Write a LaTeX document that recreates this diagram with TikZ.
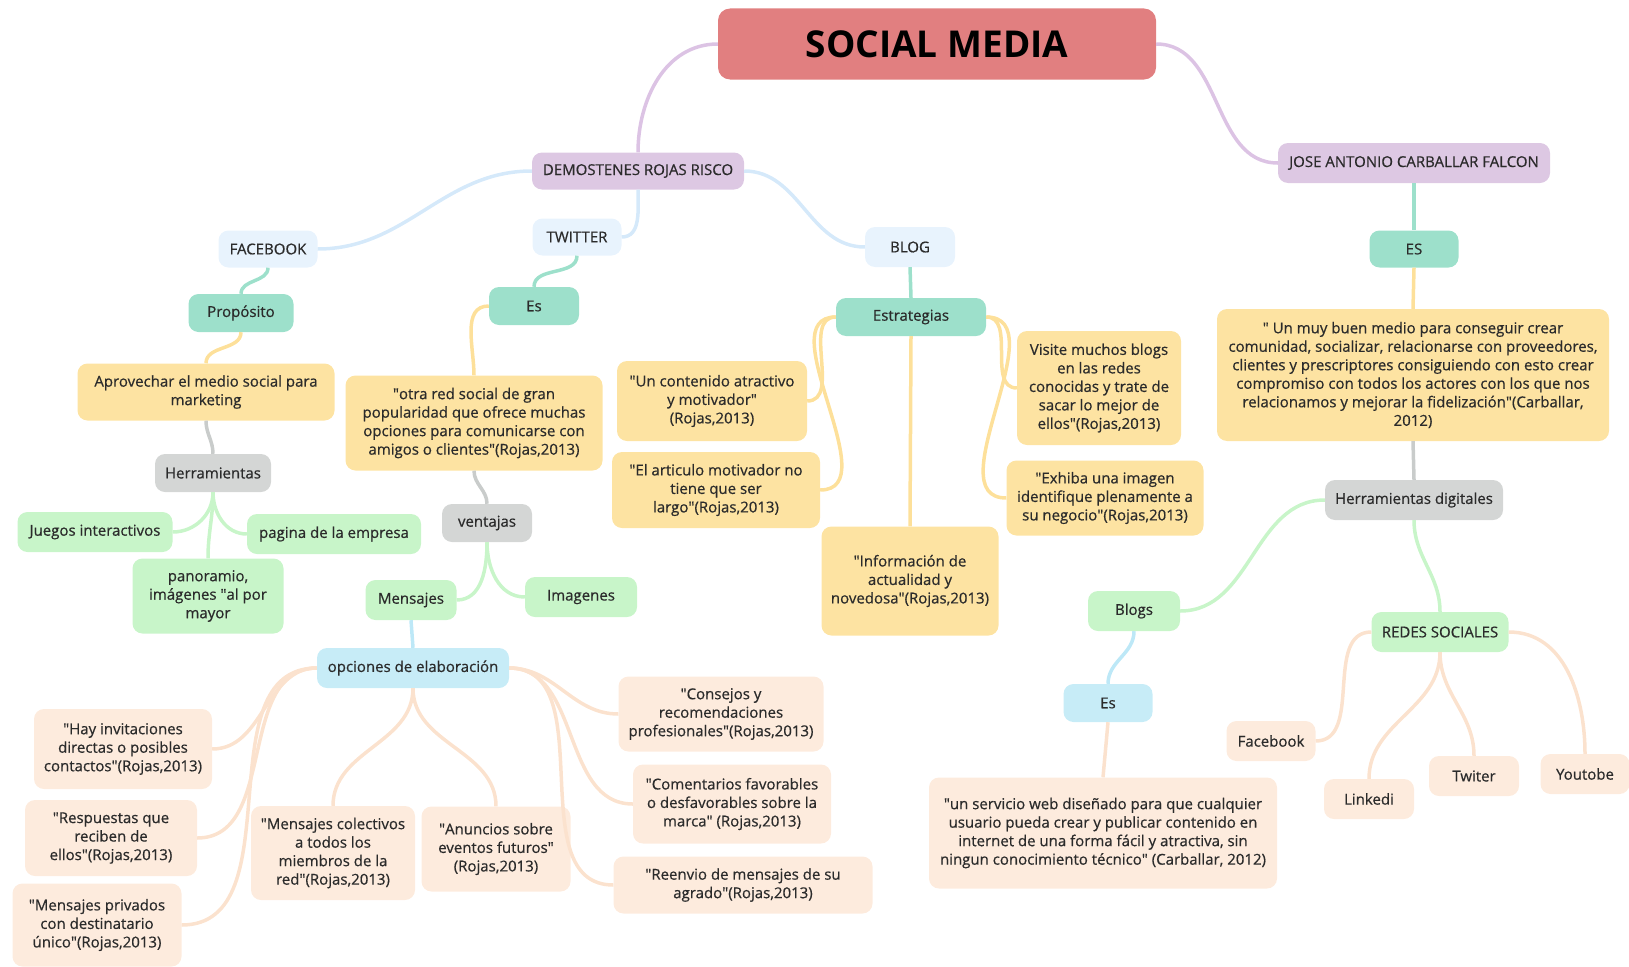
\documentclass[tikz,border=0pt]{standalone}
\usepackage{fontspec}
\setmainfont{Open Sans}
\newfontfamily\boxfont{Open Sans}[FakeBold=0.6]
\usepackage{tikz}

\newcommand{\dq}{\textquotedbl}

\definecolor{socialred}{HTML}{E17F80}
\definecolor{purplefill}{HTML}{DDC8E3}
\definecolor{bluefill}{HTML}{E8F3FD}
\definecolor{tealfill}{HTML}{9DE0CB}
\definecolor{yellowfill}{HTML}{FDE3A2}
\definecolor{grayfill}{HTML}{D4D6D5}
\definecolor{greenfill}{HTML}{C8F5C9}
\definecolor{cyanfill}{HTML}{C7ECF7}
\definecolor{peachfill}{HTML}{FDEBDD}
\definecolor{purpleline}{HTML}{DCC3E4}
\definecolor{blueline}{HTML}{D5E9FA}
\definecolor{yellowline}{HTML}{FDE09A}
\definecolor{grayline}{HTML}{C9CCCB}
\definecolor{cyanline}{HTML}{BDE8F7}
\definecolor{peachline}{HTML}{FBE2CE}
\definecolor{textgray}{HTML}{2B2B2B}

\begin{document}
\begin{tikzpicture}[x=1pt, y=-1pt,
		node_style/.style={rounded corners=10pt, fill=#1, text=textgray, align=center, inner sep=0pt,
			font=\boxfont\fontsize{15}{18.5}\selectfont},
		root_style/.style={rounded corners=12pt, fill=socialred, text=black, inner sep=0pt,
			font=\fontsize{37}{40}\selectfont\bfseries},
		edge_style/.style={draw=#1, line width=3.5pt}]

		\useasboundingbox (0,0) rectangle (1629,966);

		\node[root_style, minimum width=438, minimum height=71] (n0) at (937,44) {SOCIAL MEDIA};
		\node[node_style=purplefill, minimum width=212, minimum height=37] (n1) at (638,171) {DEMOSTENES ROJAS RISCO};
		\node[node_style=purplefill, minimum width=272, minimum height=40] (n2) at (1414,163) {JOSE ANTONIO CARBALLAR FALCON};
		\node[node_style=bluefill, minimum width=99, minimum height=37] (n3) at (268,249) {FACEBOOK};
		\node[node_style=bluefill, minimum width=89, minimum height=37] (n4) at (577,237) {TWITTER};
		\node[node_style=bluefill, minimum width=90, minimum height=40] (n5) at (910,247) {BLOG};
		\node[node_style=tealfill, minimum width=105, minimum height=38] (n6) at (241,313) {Propósito};
		\node[node_style=tealfill, minimum width=90, minimum height=38] (n7) at (534,306) {Es};
		\node[node_style=tealfill, minimum width=150, minimum height=38] (n8) at (911,317) {Estrategias};
		\node[node_style=tealfill, minimum width=89, minimum height=37] (n9) at (1414,249) {ES};
		\node[node_style=yellowfill, minimum width=257, minimum height=57] (n10) at (206,392) {Aprovechar el medio social para\\marketing};
		\node[node_style=yellowfill, minimum width=257, minimum height=95] (n11) at (474,423) {\dq otra red social de gran\\popularidad que ofrece muchas\\opciones para comunicarse con\\amigos o clientes\dq(Rojas,2013)};
		\node[node_style=yellowfill, minimum width=190, minimum height=80] (n12) at (712,401) {\dq Un contenido atractivo\\y motivador\dq\\(Rojas,2013)};
		\node[node_style=yellowfill, minimum width=208, minimum height=76] (n13) at (716,490) {\dq El articulo motivador no\\tiene que ser\\largo\dq(Rojas,2013)};
		\node[node_style=yellowfill, minimum width=177, minimum height=109] (n14) at (910,581) {\dq Información de\\actualidad y\\novedosa\dq(Rojas,2013)};
		\node[node_style=yellowfill, minimum width=164, minimum height=114] (n15) at (1099,388) {Visite muchos blogs\\en las redes\\conocidas y trate de\\sacar lo mejor de\\ellos\dq(Rojas,2013)};
		\node[node_style=yellowfill, minimum width=197, minimum height=75] (n16) at (1105,498) {\dq Exhiba una imagen\\identifique plenamente a\\su negocio\dq(Rojas,2013)};
		\node[node_style=yellowfill, minimum width=392, minimum height=132] (n17) at (1413,375) {\dq{} Un muy buen medio para conseguir crear\\comunidad, socializar, relacionarse con proveedores,\\clientes y prescriptores consiguiendo con esto crear\\compromiso con todos los actores con los que nos\\relacionamos y mejorar la fidelización\dq(Carballar,\\2012)};
		\node[node_style=grayfill, minimum width=116, minimum height=38] (n18) at (213,473) {Herramientas};
		\node[node_style=grayfill, minimum width=90, minimum height=38] (n19) at (487,523) {ventajas};
		\node[node_style=grayfill, minimum width=178, minimum height=40] (n20) at (1414,500) {Herramientas digitales};
		\node[node_style=greenfill, minimum width=155, minimum height=40] (n21) at (95,532) {Juegos interactivos};
		\node[node_style=greenfill, minimum width=174, minimum height=40] (n22) at (334,534) {pagina de la empresa};
		\node[node_style=greenfill, minimum width=151, minimum height=75] (n23) at (208,596) {panoramio,\\imágenes \dq al por\\mayor};
		\node[node_style=greenfill, minimum width=91, minimum height=40] (n24) at (411,600) {Mensajes};
		\node[node_style=greenfill, minimum width=112, minimum height=40] (n25) at (581,597) {Imagenes};
		\node[node_style=greenfill, minimum width=92, minimum height=40] (n26) at (1134,611) {Blogs};
		\node[node_style=greenfill, minimum width=137, minimum height=40] (n27) at (1440,632) {REDES SOCIALES};
		\node[node_style=cyanfill, minimum width=192, minimum height=40] (n28) at (413,668) {opciones de elaboración};
		\node[node_style=cyanfill, minimum width=89, minimum height=38] (n29) at (1108,703) {Es};
		\node[node_style=peachfill, minimum width=178, minimum height=80] (n30) at (123,749) {\dq Hay invitaciones\\directas o posibles\\contactos\dq(Rojas,2013)};
		\node[node_style=peachfill, minimum width=172, minimum height=76] (n31) at (111,838) {\dq Respuestas que\\reciben de\\ellos\dq(Rojas,2013)};
		\node[node_style=peachfill, minimum width=169, minimum height=83] (n32) at (97,925) {\dq Mensajes privados\\con destinatario\\único\dq(Rojas,2013)};
		\node[node_style=peachfill, minimum width=164, minimum height=94] (n33) at (333,853) {\dq Mensajes colectivos\\a todos los\\miembros de la\\red\dq(Rojas,2013)};
		\node[node_style=peachfill, minimum width=149, minimum height=85] (n34) at (496,849) {\dq Anuncios sobre\\eventos futuros\dq\\(Rojas,2013)};
		\node[node_style=peachfill, minimum width=205, minimum height=75] (n35) at (721,714) {\dq Consejos y\\recomendaciones\\profesionales\dq(Rojas,2013)};
		\node[node_style=peachfill, minimum width=198, minimum height=79] (n36) at (732,804) {\dq Comentarios favorables\\o desfavorables sobre la\\marca\dq{} (Rojas,2013)};
		\node[node_style=peachfill, minimum width=259, minimum height=57] (n37) at (743,885) {\dq Reenvio de mensajes de su\\agrado\dq(Rojas,2013)};
		\node[node_style=peachfill, minimum width=348, minimum height=111] (n38) at (1103,833) {\dq un servicio web diseñado para que cualquier\\usuario pueda crear y publicar contenido en\\internet de una forma fácil y atractiva, sin\\ningun conocimiento técnico\dq{} (Carballar, 2012)};
		\node[node_style=peachfill, minimum width=89, minimum height=40] (n39) at (1271,741) {Facebook};
		\node[node_style=peachfill, minimum width=90, minimum height=40] (n40) at (1369,799) {Linkedi};
		\node[node_style=peachfill, minimum width=90, minimum height=40] (n41) at (1474,776) {Twiter};
		\node[node_style=peachfill, minimum width=89, minimum height=40] (n42) at (1585,774) {Youtobe};

		\draw[edge_style=purpleline] (n0.west) to[out=180, in=90] (n1.north);
		\draw[edge_style=purpleline] (n0.east) to[out=0, in=180] (n2.west);
		\draw[edge_style=blueline] (n1.west) to[out=180, in=0] (n3.east);
		\draw[edge_style=blueline] (n1.south) to[out=-90, in=0] (n4.east);
		\draw[edge_style=blueline] (n1.east) to[out=0, in=180] (n5.west);
		\draw[edge_style=tealfill] (n3.south) to[out=-90, in=90] (n6.north);
		\draw[edge_style=tealfill] (n4.south) to[out=-90, in=90] (n7.north);
		\draw[edge_style=tealfill] (n5.south) -- (n8.north);
		\draw[edge_style=tealfill] (n2.south) -- (n9.north);
		\draw[edge_style=yellowline] (n6.south) to[out=-90, in=90] (n10.north);
		\draw[edge_style=yellowline] (n7.west) to[out=180, in=90] (n11.north);
		\draw[edge_style=yellowline] (n8.west) to[out=180, in=0] (n12.east);
		\draw[edge_style=yellowline] (n8.west) to[out=180, in=0] (n13.east);
		\draw[edge_style=yellowline] (n8.south) -- (n14.north);
		\draw[edge_style=yellowline] (n8.east) to[out=0, in=180] (n15.west);
		\draw[edge_style=yellowline] (n8.east) to[out=0, in=180] (n16.west);
		\draw[edge_style=yellowline] (n9.south) -- (n17.north);
		\draw[edge_style=grayline] (n10.south) to[out=-90, in=90] (n18.north);
		\draw[edge_style=grayline] (n11.south) to[out=-90, in=90] (n19.north);
		\draw[edge_style=grayline] (n17.south) -- (n20.north);
		\draw[edge_style=greenfill] (n18.south) to[out=-90, in=0] (n21.east);
		\draw[edge_style=greenfill] (n18.south) to[out=-90, in=180] (n22.west);
		\draw[edge_style=greenfill] (n18.south) to[out=-90, in=90] (n23.north);
		\draw[edge_style=greenfill] (n19.south) to[out=-90, in=0] (n24.east);
		\draw[edge_style=greenfill] (n19.south) to[out=-90, in=180] (n25.west);
		\draw[edge_style=greenfill] (n20.west) to[out=180, in=0] (n26.east);
		\draw[edge_style=greenfill] (n20.south) to[out=-90, in=90] (n27.north);
		\draw[edge_style=cyanline] (n24.south) -- (n28.north);
		\draw[edge_style=cyanline] (n26.south) to[out=-90, in=90] (n29.north);
		\draw[edge_style=peachline] (n28.west) to[out=180, in=0] (n30.east);
		\draw[edge_style=peachline] (n28.west) to[out=180, in=0] (n31.east);
		\draw[edge_style=peachline] (n28.west) to[out=180, in=0] (n32.east);
		\draw[edge_style=peachline] (n28.south) to[out=-90, in=90] (n33.north);
		\draw[edge_style=peachline] (n28.south) to[out=-90, in=90] (n34.north);
		\draw[edge_style=peachline] (n28.east) to[out=0, in=180] (n35.west);
		\draw[edge_style=peachline] (n28.east) to[out=0, in=180] (n36.west);
		\draw[edge_style=peachline] (n28.east) to[out=0, in=180] (n37.west);
		\draw[edge_style=peachline] (n29.south) -- (n38.north);
		\draw[edge_style=peachline] (n27.west) to[out=180, in=0] (n39.east);
		\draw[edge_style=peachline] (n27.south) to[out=-90, in=90] (n40.north);
		\draw[edge_style=peachline] (n27.south) to[out=-90, in=90] (n41.north);
		\draw[edge_style=peachline] (n27.east) to[out=0, in=90] (n42.north);
\end{tikzpicture}
\end{document}
